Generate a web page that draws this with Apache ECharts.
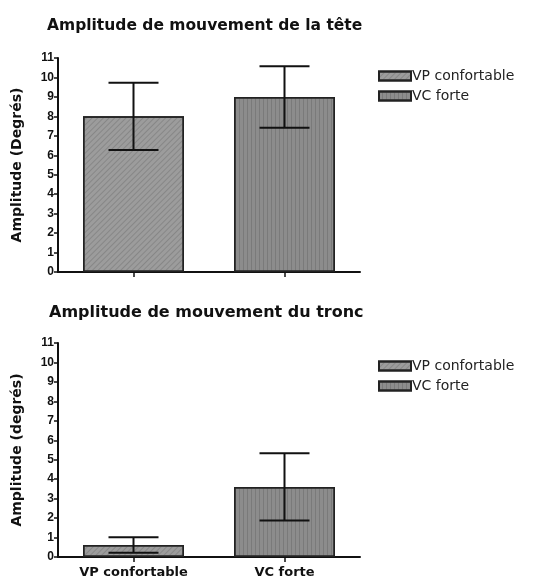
<!DOCTYPE html>
<html>
<head>
<meta charset="utf-8">
<script src="https://cdn.jsdelivr.net/npm/echarts@6/dist/echarts.min.js"></script>
<style>
  html, body { margin: 0; padding: 0; background: #fff; }
  #main { width: 556px; height: 579px; }
</style>
</head>
<body>
<div id="main"></div>
<script>
var categories = ['VP confortable', 'VC forte'];
var teteMoy = [8.0, 9.0];
var teteEcart = [1.73, 1.58];
var troncMoy = [0.62, 3.6];
var troncEcart = [0.4, 1.73];
var yTicks = [0, 11, 1];

var chart = echarts.init(document.getElementById('main'));
var font = 'DejaVu Sans, Arial, sans-serif';
var fontNum = 'Liberation Sans, Arial, sans-serif';

// un trait de barre d'erreur (moyenne +/- ecart)
function errorItem(params, api) {
  var x = api.value(0);
  var hi = api.coord([x, api.value(1)]);
  var lo = api.coord([x, api.value(2)]);
  var half = 25;
  var st = { stroke: '#111', lineWidth: 2 };
  return {
    type: 'group',
    children: [
      { type: 'line', shape: { x1: hi[0], y1: hi[1], x2: lo[0], y2: lo[1] }, style: st },
      { type: 'line', shape: { x1: hi[0] - half, y1: hi[1], x2: hi[0] + half, y2: hi[1] }, style: st },
      { type: 'line', shape: { x1: lo[0] - half, y1: lo[1], x2: lo[0] + half, y2: lo[1] }, style: st }
    ]
  };
}

function errData(moy, ecart) {
  return moy.map(function (m, i) { return [i, m + ecart[i], m - ecart[i]]; });
}

var decal1 = { symbol: 'rect', dashArrayX: [1, 0], dashArrayY: [1, 3], rotation: -Math.PI / 4, color: 'rgba(70,70,70,0.25)' };
var decal2 = { symbol: 'rect', dashArrayX: [1, 0], dashArrayY: [1, 3], rotation: Math.PI / 2, color: 'rgba(60,60,60,0.22)' };

function barSeries(name, idx, vals, color, decal, axis) {
  var d = vals.map(function (v, i) { return i === idx ? v : null; });
  return {
    name: name, type: 'bar', xAxisIndex: axis, yAxisIndex: axis,
    data: d, barWidth: 101, barGap: '-100%',
    itemStyle: { color: color, borderColor: '#222', borderWidth: 1.5, decal: decal },
    z: 2
  };
}

function yAxisOpt(grid, name) {
  return {
    type: 'value', gridIndex: grid, min: yTicks[0], max: yTicks[1], interval: yTicks[2],
    name: name, nameLocation: 'middle', nameGap: 34,
    nameTextStyle: { fontFamily: font, fontWeight: 'bold', fontSize: 14, color: '#111' },
    axisLine: { show: true, lineStyle: { color: '#111', width: 2 } },
    axisTick: { show: true, length: 4, lineStyle: { color: '#111', width: 1.5 } },
    axisLabel: { fontFamily: fontNum, fontWeight: 'bold', fontSize: 12, color: '#111', margin: 4 },
    splitLine: { show: false }
  };
}

function xAxisOpt(grid, showLabel) {
  return {
    type: 'category', gridIndex: grid, data: categories,
    axisLine: { lineStyle: { color: '#111', width: 2 } },
    axisTick: { show: true, alignWithLabel: true, length: 5, lineStyle: { color: '#111', width: 1.5 } },
    axisLabel: { show: showLabel, fontFamily: font, fontWeight: 'bold', fontSize: 13, color: '#111', margin: 9 }
  };
}

var legendBase = {
  orient: 'vertical', left: 373, itemWidth: 32, itemHeight: 9, itemGap: 6, icon: 'rect',
  textStyle: { fontFamily: font, fontSize: 14, color: '#222', padding: [0, 0, 0, -4] }
};

var option = {
  animation: false,
  title: [
    { text: 'Amplitude de mouvement de la tête', left: 42, top: 13,
      textStyle: { fontFamily: font, fontWeight: 'bold', fontSize: 15.5, color: '#111' } },
    { text: 'Amplitude de mouvement du tronc', left: 44, top: 300,
      textStyle: { fontFamily: font, fontWeight: 'bold', fontSize: 16, color: '#111' } }
  ],
  legend: [
    Object.assign({}, legendBase, { top: 64, data: ['VP confortable', 'VC forte'] }),
    Object.assign({}, legendBase, { top: 354, data: ['VP confortable ', 'VC forte '] })
  ],
  grid: [
    { left: 58, right: 196, top: 58, height: 214 },
    { left: 58, right: 196, top: 343, height: 214 }
  ],
  xAxis: [xAxisOpt(0, false), xAxisOpt(1, true)],
  yAxis: [yAxisOpt(0, 'Amplitude (Degrés)'), yAxisOpt(1, 'Amplitude (degrés)')],
  series: [
    barSeries('VP confortable', 0, teteMoy, '#9c9c9c', decal1, 0),
    barSeries('VC forte', 1, teteMoy, '#8c8c8c', decal2, 0),
    { type: 'custom', xAxisIndex: 0, yAxisIndex: 0, renderItem: errorItem, data: errData(teteMoy, teteEcart), z: 5 },
    barSeries('VP confortable ', 0, troncMoy, '#9c9c9c', decal1, 1),
    barSeries('VC forte ', 1, troncMoy, '#8c8c8c', decal2, 1),
    { type: 'custom', xAxisIndex: 1, yAxisIndex: 1, renderItem: errorItem, data: errData(troncMoy, troncEcart), z: 5 }
  ]
};

chart.setOption(option);
</script>
</body>
</html>
